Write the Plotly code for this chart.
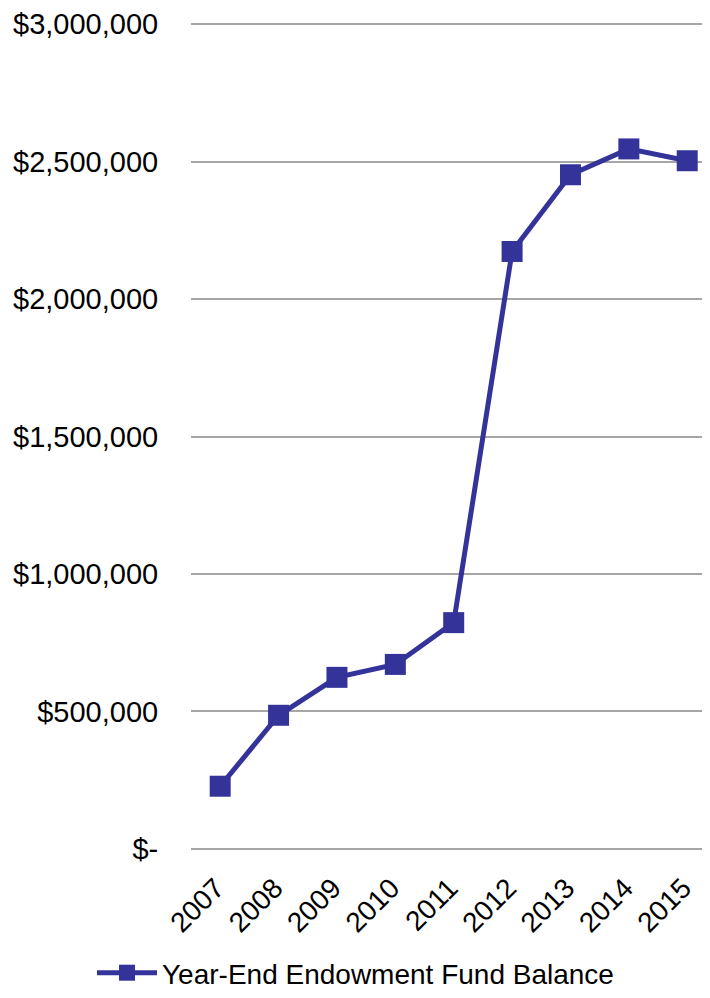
import plotly.graph_objects as go

years = ["2007", "2008", "2009", "2010", "2011", "2012", "2013", "2014", "2015"]
balance = [228000, 486000, 624000, 671000, 823000, 2173000, 2452000, 2546000, 2503000]
series_name = "Year-End Endowment Fund Balance"
y_tickvals = [0, 500000, 1000000, 1500000, 2000000, 2500000, 3000000]
y_ticktext = ["$-", "$500,000", "$1,000,000", "$1,500,000", "$2,000,000", "$2,500,000", "$3,000,000"]

color = "#333399"
font_family = "Liberation Sans, Arial, sans-serif"

fig = go.Figure()
fig.add_trace(go.Scatter(
    x=years, y=balance, name=series_name, mode="lines+markers",
    line=dict(color=color, width=5),
    marker=dict(symbol="square", size=21, color=color),
    showlegend=True,
))

fig.update_layout(
    width=702, height=990,
    margin=dict(l=183, r=0, t=15, b=148),
    plot_bgcolor="white", paper_bgcolor="white",
    font=dict(family=font_family, size=28, color="#000000"),
    showlegend=True,
    legend=dict(
        orientation="h", xref="container", yref="container",
        x=0.495, xanchor="center", y=0.0, yanchor="bottom",
        font=dict(size=28), itemwidth=60,
    ),
    xaxis=dict(
        type="category", range=[-0.5, 8.39], tickangle=-45,
        showgrid=False, showline=False, zeroline=False,
        ticks="", tickfont=dict(size=28), automargin=False,
        ticklabelstandoff=15, ticklabelshift=-4,
    ),
    yaxis=dict(
        range=[-4000, 3004000], tickvals=y_tickvals, ticktext=y_ticktext,
        showgrid=True, gridcolor="#a6a6a6", gridwidth=1.5,
        zeroline=False, showline=False,
        ticks="outside", ticklen=26, tickcolor="rgba(0,0,0,0)",
        tickfont=dict(size=29), automargin=False,
    ),
)

fig.write_html("out.html")
